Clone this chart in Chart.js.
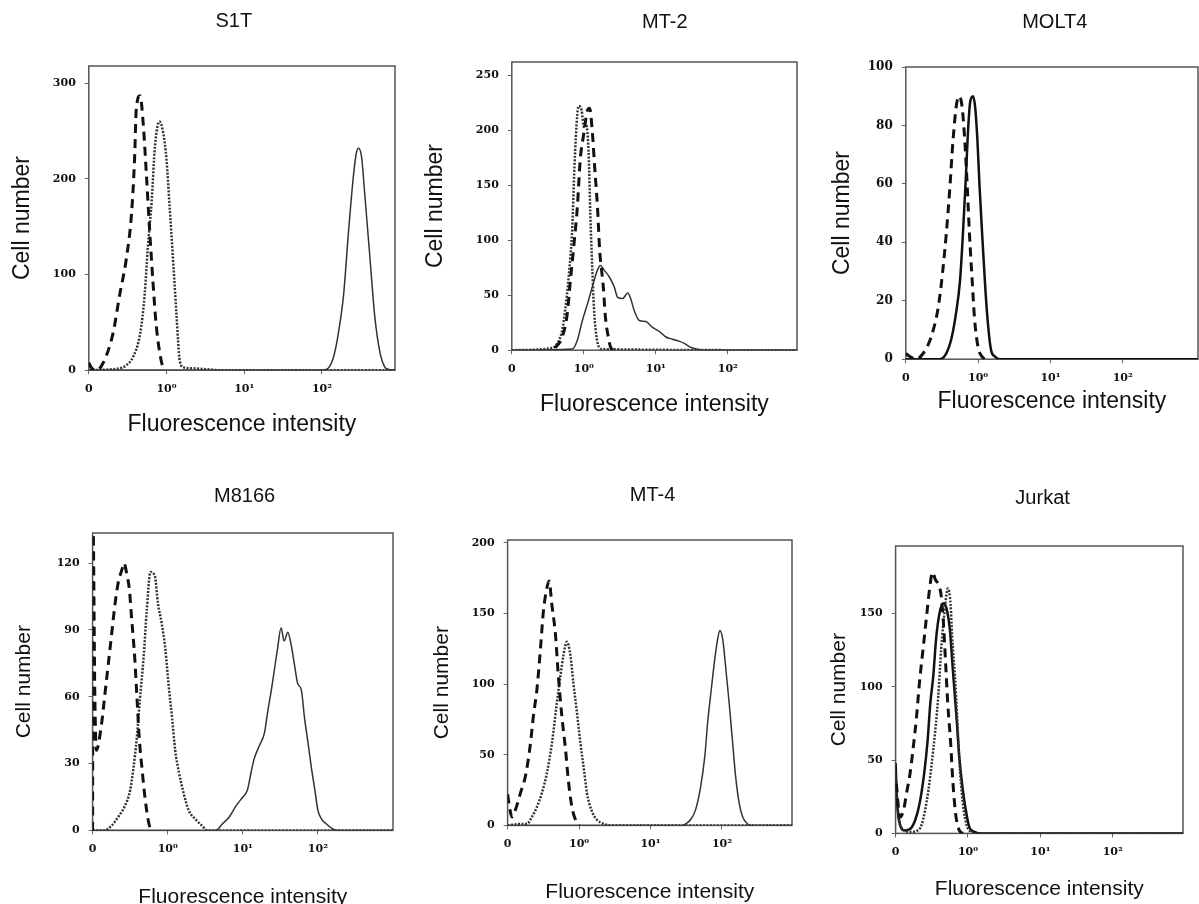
<!DOCTYPE html>
<html>
<head>
<meta charset="utf-8">
<title>Flow cytometry histograms</title>
<script src="https://cdn.jsdelivr.net/npm/chart.js@4.4.1/dist/chart.umd.min.js"></script>
<style>
    html, body { margin: 0; padding: 0; background: #fff; overflow: hidden; width: 1199px; height: 904px; }
    canvas { position: absolute; }
</style>
</head>
<body>
<script>
// x values are log10 of fluorescence; the first tick is labelled "0"
const xTickValues = [-1, 0, 1, 2];
const xTickLabels = ['0', '10\u2070', '10\u00b9', '10\u00b2'];

// S1T
const s1tDashX = [-1, -0.97, -0.9, -0.82, -0.69, -0.6, -0.52, -0.45, -0.41, -0.39, -0.34, -0.3, -0.26, -0.22, -0.17, -0.13, -0.06, -0.02];
const s1tDashY = [8, 3, 0, 7, 38, 80, 115, 164, 223, 272, 287, 258, 206, 150, 87, 45, 7, 0];
const s1tDotX = [-1, -0.6, -0.52, -0.43, -0.34, -0.28, -0.24, -0.19, -0.15, -0.09, -0.04, 0, 0.04, 0.09, 0.13, 0.17, 0.22, 0.34, 0.52, 0.7, 2.94];
const s1tDotY = [0, 2, 5, 14, 38, 80, 129, 178, 233, 260, 247, 220, 171, 108, 56, 10, 3, 2, 1, 0, 0];
const s1tSolidX = [-1, 2.0, 2.08, 2.15, 2.21, 2.28, 2.34, 2.4, 2.44, 2.47, 2.51, 2.55, 2.62, 2.68, 2.75, 2.81, 2.85, 2.94];
const s1tSolidY = [0, 0, 2, 14, 38, 80, 143, 199, 226, 232, 223, 185, 115, 56, 17, 3, 1, 0];
const s1tYTicks = [0, 100, 200, 300];

// MT-2
const mt2DotX = [-1, -0.44, -0.37, -0.3, -0.26, -0.21, -0.16, -0.13, -0.09, -0.07, -0.03, 0, 0.02, 0.05, 0.07, 0.09, 0.12, 0.14, 0.17, 0.21, 0.26, 2.96];
const mt2DotY = [0, 2, 6, 18, 36, 67, 112, 167, 215, 222, 218, 203, 206, 198, 173, 124, 70, 39, 15, 3, 1, 0];
const mt2DashX = [-0.4, -0.3, -0.23, -0.19, -0.14, -0.09, -0.05, 0, 0.05, 0.08, 0.12, 0.15, 0.19, 0.22, 0.27, 0.3, 0.34, 0.37, 0.42];
const mt2DashY = [2, 12, 33, 61, 94, 130, 173, 197, 218, 220, 197, 167, 130, 91, 58, 30, 12, 3, 0];
const mt2SolidX = [-1, -0.16, -0.09, -0.02, 0.05, 0.12, 0.19, 0.23, 0.28, 0.35, 0.42, 0.47, 0.54, 0.61, 0.65, 0.7, 0.77, 0.86, 0.95, 1.05, 1.14, 1.23, 1.33, 1.4, 1.47, 1.56, 1.65, 2.96];
const mt2SolidY = [0, 1, 9, 27, 42, 58, 73, 77, 73, 67, 58, 48, 47, 52, 47, 36, 27, 26, 21, 17, 12, 10, 8, 6, 3, 1, 0, 0];
const mt2YTicks = [0, 50, 100, 150, 200, 250];

// MOLT4
const molt4DashX = [-1, -0.95, -0.85, -0.76, -0.69, -0.62, -0.55, -0.49, -0.44, -0.39, -0.35, -0.3, -0.26, -0.22, -0.18, -0.15, -0.12, -0.08, -0.05, 0, 0.05, 0.09];
const molt4DashY = [2, 1, 0, 2, 5, 10, 18, 30, 43, 59, 74, 87, 90, 86, 73, 59, 43, 26, 14, 4, 1, 0];
const molt4SolidX = [-1, -0.53, -0.44, -0.37, -0.31, -0.25, -0.21, -0.17, -0.14, -0.11, -0.07, -0.04, -0.01, 0.02, 0.06, 0.1, 0.14, 0.18, 0.23, 0.3, 3.04];
const molt4SolidY = [0, 0, 2, 7, 15, 27, 43, 62, 78, 88, 90, 86, 75, 59, 41, 24, 11, 3, 1, 0, 0];
const molt4YTicks = [0, 20, 40, 60, 80, 100];

// M8166
const m8166DashX = [-1, -0.995, -0.97, -0.95, -0.88, -0.84, -0.79, -0.75, -0.7, -0.66, -0.61, -0.58, -0.55, -0.51, -0.48, -0.44, -0.41, -0.38, -0.34, -0.3, -0.25, -0.21];
const m8166DashY = [0, 140, 60, 36, 48, 60, 75, 87, 102, 111, 117, 120, 116, 108, 95, 78, 60, 42, 27, 14, 3, 0];
const m8166DotX = [-1, -0.84, -0.75, -0.66, -0.57, -0.5, -0.46, -0.41, -0.37, -0.32, -0.28, -0.23, -0.17, -0.13, -0.08, -0.03, 0.01, 0.06, 0.1, 0.15, 0.21, 0.28, 0.37, 0.46, 0.53, 3.0];
const m8166DotY = [0, 0, 2, 6, 11, 18, 27, 42, 59, 78, 98, 116, 114, 102, 93, 81, 66, 50, 36, 26, 17, 9, 5, 2, 0, 0];
const m8166SolidX = [-1, 0.6, 0.64, 0.73, 0.82, 0.91, 1.0, 1.06, 1.11, 1.15, 1.22, 1.29, 1.33, 1.38, 1.42, 1.46, 1.51, 1.55, 1.6, 1.64, 1.69, 1.73, 1.78, 1.82, 1.87, 1.91, 1.96, 2.0, 2.05, 2.11, 2.18, 2.25, 3.0];
const m8166SolidY = [0, 0, 0, 3, 6, 11, 15, 18, 26, 32, 38, 44, 53, 63, 72, 81, 91, 85, 89, 84, 74, 66, 63, 51, 39, 29, 18, 9, 5, 3, 1, 0, 0];
const m8166YTicks = [0, 30, 60, 90, 120];

// MT-4
const mt4DashX = [-1, -0.97, -0.94, -0.89, -0.82, -0.75, -0.68, -0.64, -0.59, -0.54, -0.5, -0.45, -0.42, -0.38, -0.33, -0.29, -0.24, -0.19, -0.15, -0.1, -0.05, 0];
const mt4DashY = [22, 12, 6, 11, 23, 35, 58, 77, 96, 125, 151, 168, 173, 156, 135, 106, 77, 54, 32, 13, 4, 0];
const mt4DotX = [-1, -0.82, -0.73, -0.66, -0.59, -0.52, -0.45, -0.38, -0.31, -0.26, -0.22, -0.17, -0.12, -0.08, -0.03, 0.02, 0.07, 0.11, 0.18, 0.25, 0.35, 0.44, 2.98];
const mt4DotY = [0, 1, 1, 6, 13, 23, 37, 58, 87, 106, 120, 130, 120, 101, 80, 58, 39, 23, 10, 4, 1, 0, 0];
const mt4SolidX = [-1, 1.45, 1.49, 1.56, 1.63, 1.7, 1.76, 1.8, 1.85, 1.9, 1.94, 1.97, 2.01, 2.05, 2.1, 2.15, 2.19, 2.24, 2.29, 2.36, 2.43, 2.98];
const mt4SolidY = [0, 0, 1, 4, 11, 27, 49, 73, 96, 118, 132, 138, 132, 113, 87, 58, 35, 16, 6, 1, 0, 0];
const mt4YTicks = [0, 50, 100, 150, 200];

// Jurkat
const jurkatDashX = [-0.99, -0.94, -0.89, -0.85, -0.8, -0.76, -0.71, -0.67, -0.62, -0.57, -0.53, -0.49, -0.45, -0.4, -0.37, -0.34, -0.31, -0.28, -0.24, -0.21, -0.17, -0.12, -0.07];
const jurkatDashY = [34, 11, 16, 27, 41, 57, 80, 103, 126, 149, 167, 178, 173, 169, 162, 144, 117, 89, 62, 36, 13, 2, 0];
const jurkatDotX = [-1, -0.96, -0.9, -0.8, -0.67, -0.57, -0.48, -0.41, -0.37, -0.32, -0.28, -0.24, -0.22, -0.18, -0.15, -0.12, -0.07, -0.02, 0.02, 0.09, 2.97];
const jurkatDotY = [40, 12, 3, 1, 3, 22, 57, 94, 126, 153, 167, 156, 135, 107, 80, 50, 20, 6, 2, 0, 0];
const jurkatSolidX = [-1, -0.98, -0.94, -0.87, -0.8, -0.73, -0.67, -0.61, -0.56, -0.52, -0.48, -0.44, -0.39, -0.34, -0.3, -0.25, -0.21, -0.16, -0.12, -0.07, -0.02, 0.02, 0.09, 0.16, 2.97];
const jurkatSolidY = [48, 22, 6, 2, 3, 9, 20, 39, 62, 89, 107, 133, 151, 157, 154, 139, 112, 80, 52, 29, 13, 4, 1, 0, 0];
const jurkatYTicks = [0, 50, 100, 150];

const pts = (xs, ys) => xs.map((x, i) => ({ x: x, y: ys[i] }));

const dashStyle = { borderColor: '#111', borderWidth: 3, borderDash: [9, 6] };
const dotStyle = { borderColor: '#333', borderWidth: 2.5, borderDash: [2, 1.5] };
const thinSolid = { borderColor: '#333', borderWidth: 1.5 };
const thickSolid = { borderColor: '#111', borderWidth: 2.5 };

// page geometry of each panel: plot box, title centre, axis title centres
const panels = [
    { title: 'S1T', box: [89, 66, 395, 370], xMax: 2.94, yMax: 318, yTicks: s1tYTicks, titleAt: [234, 21],
      yTitleX: 23, xTitleY: 424, axisFont: 23, tickSize: 11,
      lines: [[s1tDashX, s1tDashY, dashStyle], [s1tDotX, s1tDotY, dotStyle], [s1tSolidX, s1tSolidY, thinSolid]] },
    { title: 'MT-2', box: [512, 62, 797, 350], xMax: 2.96, yMax: 262, yTicks: mt2YTicks, titleAt: [665, 22],
      yTitleX: 436, xTitleY: 404, axisFont: 23, tickSize: 11,
      lines: [[mt2DashX, mt2DashY, dashStyle], [mt2DotX, mt2DotY, dotStyle], [mt2SolidX, mt2SolidY, thinSolid]] },
    { title: 'MOLT4', box: [906, 67, 1198, 359], xMax: 3.04, yMax: 100, yTicks: molt4YTicks, titleAt: [1055, 22],
      yTitleX: 843, xTitleY: 401, axisFont: 23, tickSize: 12,
      lines: [[molt4DashX, molt4DashY, dashStyle], [molt4SolidX, molt4SolidY, thickSolid]] },
    { title: 'M8166', box: [93, 533, 393, 830], xMax: 3.0, yMax: 133.5, yTicks: m8166YTicks, titleAt: [245, 496],
      yTitleX: 25, xTitleY: 897, axisFont: 21, tickSize: 11,
      lines: [[m8166DashX, m8166DashY, dashStyle], [m8166DotX, m8166DotY, dotStyle], [m8166SolidX, m8166SolidY, thinSolid]] },
    { title: 'MT-4', box: [508, 540, 792, 825], xMax: 2.98, yMax: 202, yTicks: mt4YTicks, titleAt: [653, 495],
      yTitleX: 443, xTitleY: 892, axisFont: 21, tickSize: 11,
      lines: [[mt4DashX, mt4DashY, dashStyle], [mt4DotX, mt4DotY, dotStyle], [mt4SolidX, mt4SolidY, thinSolid]] },
    { title: 'Jurkat', box: [896, 546, 1183, 833], xMax: 2.97, yMax: 196, yTicks: jurkatYTicks, titleAt: [1043, 498],
      yTitleX: 840, xTitleY: 889, axisFont: 21, tickSize: 11,
      lines: [[jurkatDashX, jurkatDashY, dashStyle], [jurkatDotX, jurkatDotY, dotStyle], [jurkatSolidX, jurkatSolidY, thickSolid]] }
];

// frame round the plot area and the panel name above it
const panelFrame = {
    id: 'panelFrame',
    beforeDatasetsDraw(chart, args, opts) {
        const a = chart.chartArea;
        const ctx = chart.ctx;
        ctx.save();
        ctx.strokeStyle = '#555';
        ctx.lineWidth = 1.5;
        ctx.strokeRect(a.left, a.top, a.right - a.left, a.bottom - a.top);
        ctx.fillStyle = '#111';
        ctx.font = '20px "Liberation Sans", Arial, sans-serif';
        ctx.textAlign = 'center';
        ctx.textBaseline = 'middle';
        ctx.fillText(opts.text, opts.x, opts.y);
        ctx.restore();
    }
};

const serif = '"DejaVu Serif", "Liberation Serif", serif';
const sans = '"Liberation Sans", Arial, sans-serif';

panels.forEach(p => {
    const [L, T, R, B] = p.box;
    const lh = p.axisFont * 1.2;
    const padL = L - p.yTitleX + lh / 2;
    const padB = p.xTitleY - B + lh / 2;
    const padT = T - p.titleAt[1] + 16;
    const padR = Math.min(4, 1199 - R);
    const left = L - padL, top = T - padT;

    const canvas = document.createElement('canvas');
    canvas.width = Math.round(R - L + padL + padR);
    canvas.height = Math.round(B - T + padT + padB);
    canvas.style.left = left + 'px';
    canvas.style.top = top + 'px';
    document.body.appendChild(canvas);

    const tickFont = { family: serif, weight: 'bold', size: p.tickSize };

    new Chart(canvas, {
        type: 'line',
        data: {
            datasets: p.lines.map(([xs, ys, style]) => Object.assign({
                data: pts(xs, ys),
                pointRadius: 0,
                fill: false,
                cubicInterpolationMode: 'monotone'
            }, style))
        },
        options: {
            responsive: false,
            animation: false,
            layout: { padding: { top: padT, right: padR, left: 0, bottom: 0 } },
            plugins: {
                legend: { display: false },
                tooltip: { enabled: false },
                panelFrame: { text: p.title, x: p.titleAt[0] - left, y: p.titleAt[1] - top }
            },
            scales: {
                x: {
                    type: 'linear',
                    min: -1,
                    max: p.xMax,
                    afterBuildTicks: s => { s.ticks = xTickValues.map(v => ({ value: v })); },
                    afterFit: s => { s.height = padB; },
                    grid: { drawOnChartArea: false, tickLength: 4, color: '#666' },
                    border: { display: false },
                    ticks: {
                        callback: (v, i) => xTickLabels[i],
                        font: { family: serif, weight: 'bold', size: 11 },
                        color: '#111',
                        padding: 8,
                        maxRotation: 0,
                        autoSkip: false
                    },
                    title: {
                        display: true,
                        text: 'Fluorescence intensity',
                        font: { family: sans, size: p.axisFont },
                        color: '#111',
                        padding: 0
                    }
                },
                y: {
                    min: 0,
                    max: p.yMax,
                    afterBuildTicks: s => { s.ticks = p.yTicks.map(v => ({ value: v })); },
                    afterFit: s => { s.width = padL; },
                    grid: { drawOnChartArea: false, tickLength: 4, color: '#666' },
                    border: { display: false },
                    ticks: {
                        font: tickFont,
                        color: '#111',
                        padding: 9,
                        autoSkip: false
                    },
                    title: {
                        display: true,
                        text: 'Cell number',
                        font: { family: sans, size: p.axisFont },
                        color: '#111',
                        padding: 0
                    }
                }
            }
        },
        plugins: [panelFrame]
    });
});
</script>
</body>
</html>
